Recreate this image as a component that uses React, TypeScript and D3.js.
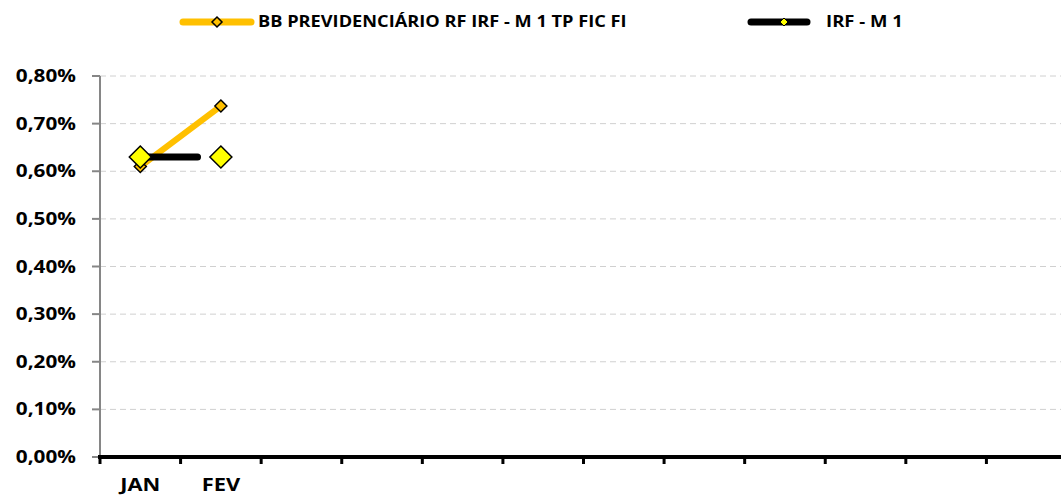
import React from "react";
import * as d3 from "d3";

const months = ["JAN", "FEV", "", "", "", "", "", "", "", "", "", ""];
const bbValues = [0.61, 0.737];
const irfValues = [0.63, 0.63];
const yTicks = [0, 0.1, 0.2, 0.3, 0.4, 0.5, 0.6, 0.7, 0.8];
const seriesNames = ["BB PREVIDENCIÁRIO RF IRF - M 1 TP FIC FI", "IRF - M 1"];

const W = 1061;
const H = 499;
const FONT = "'Open Sans', 'Liberation Sans', sans-serif";

function diamond(cx: number, cy: number, r: number) {
  return `M${cx},${cy - r}L${cx + r},${cy}L${cx},${cy + r}L${cx - r},${cy}Z`;
}

function SText(props: {
  x: number;
  y: number;
  sx: number;
  size: number;
  anchor?: "start" | "middle" | "end";
  dy?: string;
  children: React.ReactNode;
}) {
  return (
    <text
      transform={`translate(${props.x},${props.y}) scale(${props.sx},1)`}
      textAnchor={props.anchor || "start"}
      dy={props.dy}
      fontWeight={700}
      fontSize={props.size}
      fill="#000"
    >
      {props.children}
    </text>
  );
}

export default function App() {
  const idx = months.map((_, i) => String(i));
  const x = d3.scaleBand<string>().domain(idx).range([100, 1067]);
  const y = d3.scaleLinear().domain([0, 0.8]).range([457, 76]);
  const cx = (i: number) => (x(String(i)) as number) + x.bandwidth() / 2;
  const fmt = (v: number) => v.toFixed(2).replace(".", ",") + "%";

  const line = d3
    .line<number>()
    .x((_, i) => cx(i))
    .y((d) => y(d));

  const bbPath = line(bbValues) || "";
  const irfPath = line(irfValues) || "";
  const irfLen = Math.hypot(cx(1) - cx(0), y(irfValues[1]) - y(irfValues[0]));

  return (
    <svg
      width={W}
      height={H}
      style={{ position: "absolute", left: 0, top: 0, background: "#fff" }}
      fontFamily={FONT}
    >
      {/* gridlines */}
      {yTicks.slice(1).map((t) => (
        <line
          key={"g" + t}
          x1={100}
          x2={W}
          y1={y(t)}
          y2={y(t)}
          stroke="#d0d0d0"
          strokeWidth={1}
          strokeDasharray="6,4"
        />
      ))}
      {/* y axis */}
      <line x1={100} x2={100} y1={y(0.8)} y2={y(0)} stroke="#868686" strokeWidth={2} />
      {yTicks.map((t) => (
        <g key={"yt" + t}>
          <line x1={92} x2={100} y1={y(t)} y2={y(t)} stroke="#868686" strokeWidth={2} />
          <SText x={76} y={y(t)} dy="0.36em" sx={1.22} size={17} anchor="end">
            {fmt(t)}
          </SText>
        </g>
      ))}
      {/* x axis */}
      <line x1={98} x2={W} y1={y(0)} y2={y(0)} stroke="#000" strokeWidth={4} />
      {idx.map((k) => (
        <line
          key={"xt" + k}
          x1={x(k) as number}
          x2={x(k) as number}
          y1={y(0)}
          y2={y(0) + 7}
          stroke="#000"
          strokeWidth={3}
        />
      ))}
      {months.map((m, i) => (
        <SText key={"xl" + i} x={cx(i)} y={491} sx={1.25} size={17.5} anchor="middle">
          {m}
        </SText>
      ))}

      {/* BB series */}
      <path d={bbPath} fill="none" stroke="#FFC000" strokeWidth={6} strokeLinecap="round" />
      {bbValues.map((v, i) => (
        <path key={"bbm" + i} d={diamond(cx(i), y(v), 6)} fill="#FFC000" stroke="#000" strokeWidth={1.5} />
      ))}
      {/* IRF series */}
      <path
        d={irfPath}
        fill="none"
        stroke="#000"
        strokeWidth={7}
        strokeLinecap="round"
        strokeDasharray={`${irfLen * 0.71},${irfLen}`}
      />
      {irfValues.map((v, i) => (
        <path key={"irfm" + i} d={diamond(cx(i), y(v), 11)} fill="#FFFF00" stroke="#000" strokeWidth={1.5} />
      ))}

      {/* legend */}
      <g>
        <line x1={183} x2={251} y1={22} y2={22} stroke="#FFC000" strokeWidth={7} strokeLinecap="round" />
        <path d={diamond(217, 22, 5)} fill="#FFC000" stroke="#000" strokeWidth={1.5} />
        <SText x={258} y={27} sx={1.11} size={16.4}>
          {seriesNames[0]}
        </SText>
        <line x1={751} x2={807} y1={22} y2={22} stroke="#000" strokeWidth={7} strokeLinecap="round" />
        <path d={diamond(784, 22, 4)} fill="#FFFF00" stroke="#000" strokeWidth={1} />
        <SText x={826} y={27} sx={1.13} size={16.4}>
          {seriesNames[1]}
        </SText>
      </g>
    </svg>
  );
}
